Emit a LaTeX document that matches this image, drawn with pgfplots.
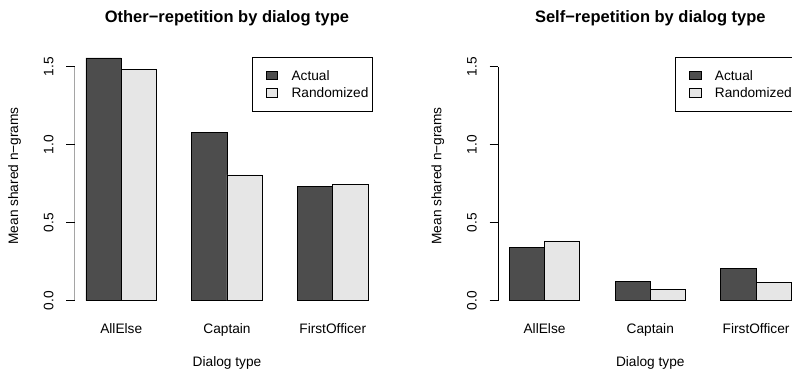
\documentclass[border=0pt]{standalone}
\usepackage{fontspec}
\setmainfont{Liberation Sans}
\usepackage{pgfplots}
\pgfplotsset{compat=1.18}

\definecolor{barDark}{RGB}{77,77,77}
\definecolor{barLight}{RGB}{230,230,230}

\newcommand{\lbl}{\fontsize{13.7}{16}\selectfont}
\newcommand{\ttl}{\bfseries\fontsize{16.5}{19.8}\selectfont}

\pgfplotsset{
  rbar/.style={
    ybar, bar width=1, bar shift=0pt, draw=black, line width=0.8pt,
    legend image code/.code={
      \path (-13.4pt,0pt) (20.7pt,0pt);
      \draw[##1, draw=black, line width=0.8pt] (0pt,-4.35pt) rectangle (11.7pt,4.35pt);
    },
  },
  rpanel/.style={
    width=304.6pt, height=269.6pt, scale only axis, anchor=south west,
    xmin=0.68, xmax=9.32, ymin=-0.064, ymax=1.664,
    axis lines=left, axis line style={draw=none},
    xtick={2,5,8}, xticklabels={AllElse,Captain,FirstOfficer},
    ytick={0,0.5,1,1.5}, yticklabels={0.0,0.5,1.0,1.5},
    xtick style={draw=none},
    ytick style={draw=black, line width=0.8pt},
    tick align=outside, major tick length=8.3pt,
    xticklabel style={anchor=base, yshift=-14.3pt, font=\lbl},
    yticklabel style={xshift=-13.1pt, rotate=90, anchor=base, font=\lbl},
    xlabel={Dialog type},
    xlabel style={at={(axis description cs:0.5,-0.2077)}, anchor=base, font=\lbl},
    ylabel={Mean shared n−grams},
    ylabel style={at={(axis description cs:-0.1858,0.5)}, anchor=base, font=\lbl},
    every axis title/.style={at={(axis description cs:0.5,1)}, anchor=base,
                             yshift=18.1pt, font=\ttl},
    legend cell align=left,
    legend style={
      at={(axis description cs:0.9803,0.9421)}, anchor=north east,
      draw=black, line width=0.8pt, inner xsep=0pt, inner ysep=9.6pt,
      row sep=0pt, column sep=0pt,
      nodes={inner xsep=4.4pt, inner ysep=0pt, text height=13.6pt,
             text depth=3.8pt, font=\lbl},
    },
  },
}

% bar centres: Actual at 1.5, 4.5, 7.5; Randomized at 2.5, 5.5, 8.5
\pgfplotstableread{
x    y
1.5  1.556
4.5  1.081
7.5  0.735
}\otherActual
\pgfplotstableread{
x    y
2.5  1.481
5.5  0.806
8.5  0.746
}\otherRandom
\pgfplotstableread{
x    y
1.5  0.344
4.5  0.122
7.5  0.208
}\selfActual
\pgfplotstableread{
x    y
2.5  0.383
5.5  0.073
8.5  0.115
}\selfRandom

\begin{document}
\begin{tikzpicture}
\useasboundingbox (0,0) rectangle (792pt,372pt);
\clip (0,0) rectangle (792pt,372pt);

\begin{axis}[rpanel, at={(74.7pt,61.3pt)}, title={Other−repetition by dialog type}]
  \addplot[rbar, fill=barDark] table[x=x, y=y] {\otherActual};
  \addlegendentry{Actual}
  \addplot[rbar, fill=barLight] table[x=x, y=y] {\otherRandom};
  \addlegendentry{Randomized}
  \draw[line width=0.8pt] (axis cs:0.68,0) -- (axis cs:0.68,1.5);
\end{axis}

\begin{axis}[rpanel, at={(498pt,61.3pt)}, title={Self−repetition by dialog type}]
  \addplot[rbar, fill=barDark] table[x=x, y=y] {\selfActual};
  \addlegendentry{Actual}
  \addplot[rbar, fill=barLight] table[x=x, y=y] {\selfRandom};
  \addlegendentry{Randomized}
  \draw[line width=0.8pt] (axis cs:0.68,0) -- (axis cs:0.68,1.5);
\end{axis}
\end{tikzpicture}
\end{document}
